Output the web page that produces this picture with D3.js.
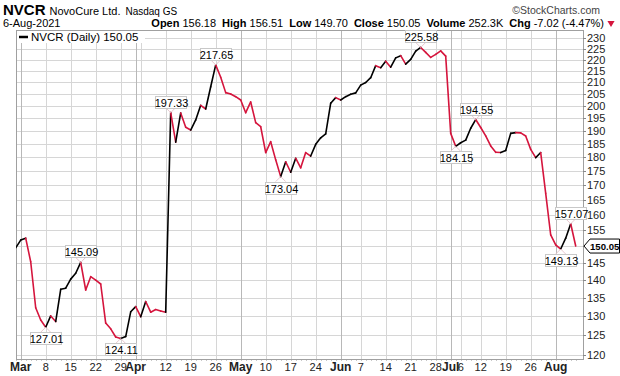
<!DOCTYPE html>
<html>
<head>
<meta charset="utf-8">
<script src="https://cdn.jsdelivr.net/npm/d3@7"></script>
<style>
  body { margin: 0; background: #fff; }
  svg { display: block; font-family: "Liberation Sans", Arial, sans-serif; }
</style>
</head>
<body>
<div id="graph"></div>
<script>
var symbol = 'NVCR'
var company = 'NovoCure Ltd.'
var exchange = 'Nasdaq GS'
var asOf = '6-Aug-2021'
var quoteLabels = ['Open', 'High', 'Low', 'Close', 'Volume', 'Chg']
var quoteValues = ['156.18', '156.51', '149.70', '150.05', '252.3K', '-7.02 (-4.47%)']

var firstDay = '2021-02-26'
var lastDay = '2021-08-06'
var holidays = ['2021-04-02', '2021-05-31', '2021-07-05']

// daily closes, one per trading day from Feb 26
var closes = [149.5,
  151.9, 152.5, 145.3, 132.2, 128.9, 127.01, 130.0, 128.5, 137.3, 137.6,
  140.2, 141.9, 145.09, 137.1, 140.9, 139.9, 138.8, 128.1, 126.6, 124.5,
  124.11, 124.6, 131.1,
  132.5, 129.8, 133.9, 131.0, 131.7, 131.3, 131.0, 197.33, 185.7, 197.2, 191.5,
  190.4, 194.4, 200.3, 198.8, 208.1, 217.65, 212.2, 205.6, 205.0, 203.9,
  202.5, 197.3, 201.7, 193.3, 191.7, 181.8, 185.9, 179.1, 173.04, 178.4,
  174.6, 179.7, 176.2, 181.8, 180.5, 184.9, 187.4, 188.9, 201.2, 203.5,
  202.5, 203.9, 204.9, 205.5, 208.8, 209.9, 212.0, 217.3, 216.4,
  219.3, 216.6, 220.8, 221.8, 218.0, 220.1, 223.9, 225.58, 223.3, 221.0,
  222.4, 224.0, 221.6,
  189.1, 184.15, 185.5, 186.5, 191.1, 194.55, 191.4, 188.1, 184.3, 181.9, 181.8,
  182.6, 189.1, 189.4, 189.3, 188.1, 183.0, 179.9, 181.8, 167.2, 153.5,
  150.4, 149.13, 152.5, 157.07, 150.05]

// 1 = day closed below its open (drawn red)
var closedDown = [0,
  0, 0, 1, 1, 1, 1, 0, 1, 0, 0,
  0, 0, 0, 1, 1, 1, 1, 1, 1, 1,
  1, 0, 0,
  0, 1, 0, 1, 1, 1, 1, 0, 1, 0, 1,
  1, 0, 0, 1, 0, 0, 1, 1, 1, 1,
  1, 1, 1, 1, 1, 1, 1, 1, 1, 0,
  1, 0, 1, 1, 1, 0, 0, 0, 0, 0,
  1, 0, 0, 0, 0, 0, 0, 0, 1,
  0, 1, 0, 0, 1, 0, 0, 0, 1, 1,
  1, 1, 1,
  1, 1, 0, 0, 0, 0, 1, 1, 1, 1, 1,
  0, 0, 0, 1, 1, 1, 1, 0, 1, 1,
  1, 1, 0, 0, 1]

var labelDates = ['2021-03-08', '2021-03-17', '2021-03-29', '2021-04-13', '2021-04-26',
  '2021-05-13', '2021-06-23', '2021-07-02', '2021-07-09', '2021-08-03', '2021-08-05']

var tickDates = ['2021-03-01', '2021-03-08', '2021-03-15', '2021-03-22', '2021-03-29',
  '2021-04-01', '2021-04-05', '2021-04-12', '2021-04-19', '2021-04-26',
  '2021-05-03', '2021-05-10', '2021-05-17', '2021-05-24',
  '2021-06-01', '2021-06-07', '2021-06-14', '2021-06-21', '2021-06-28',
  '2021-07-01', '2021-07-06', '2021-07-12', '2021-07-19', '2021-07-26', '2021-08-02']
var tickLabels = ['Mar', '8', '15', '22', '29', 'Apr', '', '12', '19', '26',
  'May', '10', '17', '24', 'Jun', '7', '14', '21', '28', 'Jul', '6', '12', '19', '26', 'Aug']
var monthTicks = ['Mar', 'Apr', 'May', 'Jun', 'Jul', 'Aug']

var yTicks = d3.range(120, 231, 5)

var width = 620, height = 376
var pLeft = 16, pRight = 583, pTop = 30, pBottom = 359
var upColor = '#000', downColor = '#d5153d'

var fmt = d3.timeFormat('%Y-%m-%d')
var parse = d3.timeParse('%Y-%m-%d')
var days = d3.timeDay.range(parse(firstDay), d3.timeDay.offset(parse(lastDay), 1))
  .filter(function(d){ return d.getDay() != 0 && d.getDay() != 6 && holidays.indexOf(fmt(d)) < 0 })
  .map(fmt)

var data = days.map(function(d, i){ return {date: d, i: i, close: closes[i], down: closedDown[i]} })
var indexOf = function(s){ return days.indexOf(s) }
var isMonth = function(i){ return monthTicks.indexOf(tickLabels[i]) >= 0 }
var last = closes[closes.length - 1]

var x = d3.scaleLinear().domain([0.06, 113.46]).range([pLeft, pRight])
var y = d3.scaleLog().domain([120, 230]).range([354.9, 38])

var svg = d3.select('#graph').html('')
  .append('svg')
    .attr('width', width)
    .attr('height', height)

svg.append('defs').append('clipPath').attr('id', 'plot')
  .append('rect').attr('x', pLeft).attr('y', pTop).attr('width', pRight - pLeft).attr('height', pBottom - pTop)

// header
var h1 = svg.append('text').attr('x', 3).attr('y', 15).attr('fill', '#000')
h1.append('tspan').attr('font-weight', 'bold').attr('font-size', 15).text(symbol)
h1.append('tspan').attr('font-size', 11).attr('dx', 4).text(company)
h1.append('tspan').attr('font-size', 10).attr('dx', 5).text(exchange)

svg.append('text').attr('x', 600).attr('y', 14).attr('text-anchor', 'end')
  .attr('font-size', 10.5).attr('fill', '#444').text('\u00a9StockCharts.com')

svg.append('text').attr('x', 3).attr('y', 27).attr('font-size', 11).text(asOf)

var h2 = svg.append('text').attr('x', 604).attr('y', 27).attr('text-anchor', 'end').attr('font-size', 11)
quoteLabels.forEach(function(l, i){
  h2.append('tspan').attr('font-weight', 'bold').attr('dx', i ? 6 : 0).text(l)
  h2.append('tspan').attr('dx', 3).text(quoteValues[i])
})
svg.append('path')
  .attr('d', d3.symbol().type(d3.symbolTriangle).size(22)())
  .attr('transform', 'translate(611,23) rotate(180)')
  .attr('fill', downColor)

// grid
var g = svg.append('g')
g.selectAll('.hgrid').data(yTicks).enter().append('line')
  .attr('x1', pLeft).attr('x2', pRight)
  .attr('y1', function(d){ return Math.round(y(d)) + 0.5 })
  .attr('y2', function(d){ return Math.round(y(d)) + 0.5 })
  .attr('stroke', '#d6d6d6')

g.selectAll('.vgrid').data(tickDates).enter().append('line')
  .attr('x1', function(d){ return Math.round(x(indexOf(d))) + 0.5 })
  .attr('x2', function(d){ return Math.round(x(indexOf(d))) + 0.5 })
  .attr('y1', pTop).attr('y2', pBottom)
  .attr('stroke', function(d, i){ return isMonth(i) ? '#b8b8b8' : '#d6d6d6' })

// little day ticks under the frame
g.selectAll('.dtick').data(data).enter().append('line')
  .attr('x1', function(d){ return Math.round(x(d.i)) + 0.5 })
  .attr('x2', function(d){ return Math.round(x(d.i)) + 0.5 })
  .attr('y1', pBottom).attr('y2', pBottom + 2)
  .attr('stroke', '#c8c8c8')

svg.append('rect')
  .attr('x', pLeft + 0.5).attr('y', pTop + 0.5)
  .attr('width', pRight - pLeft).attr('height', pBottom - pTop)
  .attr('fill', 'none').attr('stroke', '#a0a0a0')

// y axis on the right, the label under the price tag is left out
var ya = svg.append('g')
ya.selectAll('line').data(yTicks).enter().append('line')
  .attr('x1', pRight).attr('x2', pRight + 3)
  .attr('y1', function(d){ return Math.round(y(d)) + 0.5 })
  .attr('y2', function(d){ return Math.round(y(d)) + 0.5 })
  .attr('stroke', '#888')
ya.selectAll('text').data(yTicks.filter(function(d){ return Math.abs(y(d) - y(last)) > 9 }))
  .enter().append('text')
  .attr('x', pRight + 4)
  .attr('y', function(d){ return y(d) + 4 })
  .attr('font-size', 11).attr('fill', '#222')
  .text(function(d){ return d })

// x axis labels
svg.append('g').selectAll('text').data(tickDates).enter().append('text')
  .attr('x', function(d){ return x(indexOf(d)) })
  .attr('y', 371)
  .attr('text-anchor', 'middle')
  .attr('font-size', function(d, i){ return isMonth(i) ? 12 : 11 })
  .attr('font-weight', function(d, i){ return isMonth(i) ? 'bold' : 'normal' })
  .attr('fill', '#222')
  .text(function(d, i){ return tickLabels[i] })

// legend
svg.append('rect').attr('x', 17).attr('y', 31).attr('width', 128).attr('height', 12).attr('fill', '#fff')
svg.append('line').attr('x1', 19).attr('x2', 28).attr('y1', 37).attr('y2', 37)
  .attr('stroke', '#000').attr('stroke-width', 2.5)
svg.append('text').attr('x', 31).attr('y', 41).attr('font-size', 11.5)
  .text(symbol + ' (Daily) ' + d3.format('.2f')(last))

// price line, one segment per day
var plot = svg.append('g').attr('clip-path', 'url(#plot)')
plot.selectAll('line.seg').data(data.slice(1)).enter().append('line')
  .attr('x1', function(d){ return x(d.i - 1) })
  .attr('y1', function(d){ return y(closes[d.i - 1]) })
  .attr('x2', function(d){ return x(d.i) })
  .attr('y2', function(d){ return y(d.close) })
  .attr('stroke', function(d){ return d.down ? downColor : upColor })
  .attr('stroke-width', 1.6)
  .attr('stroke-linecap', 'round')

// swing labels
var labels = labelDates.map(function(s){
  var i = indexOf(s)
  var prev = closes[i - 1], next = closes[i + 1]
  var high = next === undefined ? closes[i] > prev : (closes[i] >= prev && closes[i] >= next)
  return {i: i, close: closes[i], high: high}
})
var lg = svg.append('g')
labels.forEach(function(d){
  var px = x(d.i), py = y(d.close)
  var s = d.high ? -1 : 1
  var bw = 31, bh = 12
  var by = d.high ? py - 5 - bh : py + 5
  lg.append('path')
    .attr('d', 'M' + (px - 5) + ',' + (py + s * 5) + 'L' + px + ',' + py + 'L' + (px + 5) + ',' + (py + s * 5))
    .attr('fill', 'none').attr('stroke', '#e8c8cf').attr('stroke-width', 1)
  lg.append('rect')
    .attr('x', Math.round(px - bw / 2) + 0.5).attr('y', Math.round(by) + 0.5)
    .attr('width', bw).attr('height', bh)
    .attr('fill', '#fff').attr('stroke', '#c8c8c8')
  lg.append('text')
    .attr('x', Math.round(px) + 0.5).attr('y', Math.round(by) + 10.5)
    .attr('text-anchor', 'middle').attr('font-size', 11).attr('fill', '#000')
    .text(d3.format('.2f')(d.close))
})

// last price tag
var ly = y(last)
svg.append('path')
  .attr('d', 'M' + (pRight + 1) + ',' + ly + 'L' + (pRight + 7) + ',' + (ly - 7) + 'L619.5,' + (ly - 7) +
    'L619.5,' + (ly + 7) + 'L' + (pRight + 7) + ',' + (ly + 7) + 'Z')
  .attr('fill', '#fff').attr('stroke', '#000')
svg.append('text').attr('x', pRight + 7).attr('y', ly + 3.5)
  .attr('font-size', 9.6).attr('font-weight', 'bold')
  .text(d3.format('.2f')(last))
</script>
</body>
</html>
